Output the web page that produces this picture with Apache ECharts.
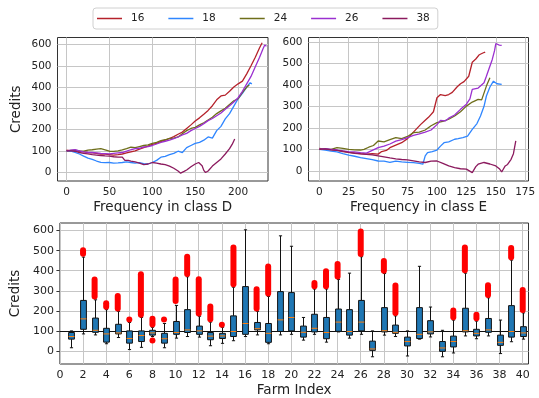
<!DOCTYPE html>
<html>
<head>
<meta charset="utf-8">
<script src="https://cdn.jsdelivr.net/npm/echarts@6/dist/echarts.min.js"></script>
<style>
  html, body { margin: 0; padding: 0; background: #fff; }
  #chart { width: 539px; height: 398px; }
</style>
</head>
<body>
<div id="chart"></div>
<script>
// line series: [frequency, credits]
const classD16 = [[0,103],[5,100],[10,102],[15,97],[20,95],[25,92],[30,90],[35,88],[40,85],[45,84],[50,82],[55,80],[60,82],[65,85],[70,90],[75,95],[80,100],[85,108],[90,115],[95,122],[100,130],[105,135],[110,143],[115,150],[120,158],[125,167],[130,178],[135,188],[140,205],[145,222],[150,240],[155,255],[160,272],[165,290],[170,312],[175,340],[180,358],[185,362],[190,380],[195,400],[200,415],[205,428],[210,462],[215,500],[220,540],[225,585],[228,608]];
const classD18 = [[0,100],[5,98],[10,93],[15,85],[20,75],[25,66],[30,60],[35,52],[40,46],[45,44],[50,45],[55,42],[60,43],[65,45],[70,48],[75,45],[80,42],[85,44],[90,40],[95,38],[100,45],[105,55],[110,70],[115,74],[120,82],[125,88],[130,98],[135,92],[140,115],[145,125],[150,135],[155,140],[160,150],[165,165],[170,160],[175,195],[180,215],[185,250],[190,275],[195,310],[200,345],[205,370],[210,400],[214,420],[216,415]];
const classD24 = [[0,100],[5,102],[10,103],[15,100],[20,98],[25,103],[30,105],[35,108],[40,110],[45,104],[50,98],[55,97],[60,100],[65,104],[70,110],[75,117],[80,115],[85,120],[90,125],[95,128],[100,135],[105,140],[110,148],[115,152],[120,158],[125,160],[130,165],[135,180],[140,195],[145,205],[150,210],[155,222],[160,232],[165,245],[170,258],[175,275],[180,288],[185,300],[190,318],[195,335],[200,345],[205,375],[210,400],[213,410]];
const classD26 = [[0,100],[5,103],[10,105],[15,100],[20,95],[25,93],[30,92],[35,90],[40,88],[45,87],[50,86],[55,88],[60,90],[65,92],[70,98],[75,105],[80,110],[85,112],[90,118],[95,120],[100,125],[105,132],[110,140],[115,145],[120,150],[125,157],[130,165],[135,175],[140,182],[145,195],[150,205],[155,215],[160,228],[165,242],[170,252],[175,265],[180,278],[185,295],[190,312],[195,330],[200,350],[205,380],[210,415],[215,450],[220,495],[225,540],[229,580],[231,598],[233,592]];
const classD38 = [[0,100],[5,100],[10,98],[15,92],[20,88],[25,86],[30,82],[35,80],[40,78],[45,76],[50,75],[55,72],[60,70],[65,70],[68,55],[72,55],[75,52],[80,48],[85,42],[90,35],[95,38],[100,45],[105,42],[110,38],[115,35],[120,28],[125,18],[130,5],[133,-5],[137,3],[140,10],[145,25],[150,38],[154,45],[158,30],[160,8],[162,-2],[165,5],[170,28],[175,45],[180,62],[185,85],[190,110],[193,130],[196,156]];

const classE16 = [[0,104],[5,100],[10,98],[15,95],[20,90],[25,86],[30,83],[35,80],[40,78],[45,80],[50,78],[53,90],[57,95],[60,108],[65,120],[70,131],[75,150],[80,180],[86,215],[90,235],[93,250],[97,275],[100,340],[103,355],[107,350],[110,355],[113,365],[117,390],[120,405],[123,415],[127,440],[130,505],[133,520],[136,540],[139,548],[141,552]];
const classE18 = [[0,100],[5,97],[10,92],[15,88],[20,80],[25,73],[30,68],[35,62],[40,57],[45,52],[50,46],[55,45],[60,40],[65,45],[70,42],[75,40],[80,38],[85,35],[88,31],[90,70],[92,85],[96,90],[100,97],[103,115],[106,131],[110,135],[115,147],[118,150],[122,155],[126,162],[130,193],[134,220],[137,255],[140,300],[142,348],[145,390],[148,417],[151,405],[155,402]];
const classE24 = [[0,100],[5,102],[10,100],[15,108],[20,105],[25,100],[30,98],[35,97],[38,100],[42,110],[46,118],[50,139],[55,135],[60,145],[65,155],[70,150],[75,160],[80,178],[85,180],[90,190],[95,210],[100,224],[105,230],[110,240],[115,255],[120,275],[125,301],[130,320],[135,332],[138,330],[142,394],[145,433]];
const classE26 = [[0,100],[5,103],[10,100],[15,97],[20,93],[25,90],[30,88],[35,85],[40,83],[45,95],[50,108],[55,115],[60,125],[65,138],[70,145],[75,155],[80,165],[85,172],[90,180],[95,190],[100,215],[103,235],[107,232],[110,245],[115,260],[120,286],[125,310],[128,335],[130,379],[135,385],[140,410],[142,440],[144,471],[147,518],[149,560],[150,592],[153,585],[155,583]];
const classE38 = [[0,100],[5,102],[10,98],[15,95],[20,92],[25,86],[30,82],[35,79],[40,77],[45,74],[50,70],[55,65],[60,60],[65,56],[70,53],[75,51],[80,47],[85,42],[90,39],[95,45],[100,46],[105,35],[110,23],[115,15],[120,10],[125,8],[130,-8],[133,20],[135,31],[140,39],[145,32],[150,23],[153,10],[155,-5],[158,23],[160,30],[163,54],[165,80],[167,139]];

const legendNames = ['16', '18', '24', '26', '38'];
const lineColors = ['#b5222b', '#2f86ff', '#6e6e1a', '#9b30d0', '#8b1a5e'];

// box plot per farm
const farmIndex = [1,2,3,4,5,6,7,8,9,10,11,12,13,14,15,16,17,18,19,20,21,22,23,24,25,26,27,28,29,30,31,32,33,34,35,36,37,38,39,40];
const whiskerLow = [16,85,80,36,67,7,18,72,16,64, 72,69,26,38,51,72,80,36,80,83, 54,83,44,95,64,83,-29,79,72,-25, 59,70,-29,-10,75,61,75,-13,46,59];
const boxQ1 = [59,108,93,44,85,39,47,79,39,83, 92,83,56,62,72,83,105,43,97,100, 69,95,61,98,79,100,3,95,88,25, 62,85,-2,20,95,75,93,28,69,72];
const boxMedian = [72,160,103,85,90,62,77,90,61,92, 105,100,74,75,97,137,111,88,155,167, 93,113,92,144,97,144,10,101,93,47, 83,95,15,47,101,88,105,43,97,90];
const boxQ3 = [92,252,164,113,133,100,100,103,88,147, 206,124,92,88,175,321,142,137,296,291, 124,183,167,209,206,252,49,216,129,69, 216,151,47,74,213,108,162,79,226,121];
const whiskerHigh = [100,468,255,206,198,142,167,118,137,227, 370,173,144,118,318,604,198,272,574,522, 167,309,309,357,388,470,100,386,175,100, 422,219,103,154,388,149,265,154,453,190];

// outlier runs (dense red markers), one entry per run
const flierFarm = [2,3,4,5,6,7,8,8,9,10,11,12,13,14,15,17,18,22,23,24,26,28,29,34,35,36,37,39,40];
const flierLow  = [485,272,220,212,157,181,132,52,157,249,384,187,158,131,332,212,286,323,323,371,484,400,189,168,402,163,279,467,204];
const flierHigh = [502,356,238,274,157,382,161,52,157,356,470,357,222,131,516,308,421,339,398,433,595,449,326,202,516,181,328,513,304];

const creditTicks = [0, 100, 200, 300, 400, 500, 600];
const classDTicks = [0, 50, 100, 150, 200];
const classETicks = [0, 25, 50, 75, 100, 125, 150, 175];
const farmTicks = [0,2,4,6,8,10,12,14,16,18,20,22,24,26,28,30,32,34,36,38,40];

const FONT = 'DejaVu Sans';
const TEXT = '#222';
const GRIDLINE = '#c6c6c6';

function valueAxis(gridIndex, min, max, ticks, fontSize, extra) {
  return Object.assign({
    type: 'value',
    gridIndex: gridIndex,
    min: min,
    max: max,
    axisLine: { show: false },
    axisTick: { show: true, inside: false, length: 3.5, customValues: ticks, lineStyle: { color: '#333' } },
    axisLabel: { customValues: ticks, margin: 6, fontSize: fontSize, color: TEXT, fontFamily: FONT },
    splitLine: { show: false },
    nameTextStyle: { fontSize: 13.5, color: TEXT, fontFamily: FONT },
  }, extra || {});
}

// grid lines drawn as mark lines so they sit exactly on the tick values
function gridLines(index, xTicks, yTicks) {
  return {
    type: 'line',
    xAxisIndex: index,
    yAxisIndex: index,
    data: [],
    silent: true,
    z: 1,
    markLine: {
      silent: true,
      symbol: 'none',
      label: { show: false },
      animation: false,
      lineStyle: { color: GRIDLINE, width: 1, type: 'solid' },
      data: xTicks.map(v => ({ xAxis: v })).concat(yTicks.map(v => ({ yAxis: v }))),
      z: 1,
    },
  };
}

function renderBox(params, api) {
  const x = api.value(0);
  const pLow = api.coord([x, api.value(1)]);
  const pQ1 = api.coord([x, api.value(2)]);
  const pMed = api.coord([x, api.value(3)]);
  const pQ3 = api.coord([x, api.value(4)]);
  const pHigh = api.coord([x, api.value(5)]);
  const half = api.size([0.5, 0])[0] / 2;
  const cap = half * 0.55;
  const cx = Math.round(pQ1[0]) + 0.5;
  const stroke = { stroke: '#111', lineWidth: 1 };
  return {
    type: 'group',
    children: [
      { type: 'line', shape: { x1: cx, y1: pHigh[1], x2: cx, y2: pQ3[1] }, style: stroke },
      { type: 'line', shape: { x1: cx, y1: pQ1[1], x2: cx, y2: pLow[1] }, style: stroke },
      { type: 'line', shape: { x1: cx - cap, y1: pHigh[1], x2: cx + cap, y2: pHigh[1] }, style: stroke },
      { type: 'line', shape: { x1: cx - cap, y1: pLow[1], x2: cx + cap, y2: pLow[1] }, style: stroke },
      { type: 'rect', shape: { x: cx - half, y: pQ3[1], width: half * 2, height: pQ1[1] - pQ3[1] },
        style: { fill: '#1f77b4', stroke: '#111', lineWidth: 1 } },
      { type: 'line', shape: { x1: cx - half, y1: pMed[1], x2: cx + half, y2: pMed[1] },
        style: { stroke: '#ff7f0e', lineWidth: 1 } },
    ],
  };
}

function renderFlier(params, api) {
  const x = api.value(0);
  const pLo = api.coord([x, api.value(1)]);
  const pHi = api.coord([x, api.value(2)]);
  const r = 3;
  return {
    type: 'rect',
    shape: { x: pLo[0] - r, y: pHi[1] - r, width: r * 2, height: pLo[1] - pHi[1] + r * 2, r: r },
    style: { fill: '#ff0000' },
  };
}

const boxData = farmIndex.map((f, i) => [f, whiskerLow[i], boxQ1[i], boxMedian[i], boxQ3[i], whiskerHigh[i]]);
const flierData = flierFarm.map((f, i) => [f, flierLow[i], flierHigh[i]]);

const classD = [classD16, classD18, classD24, classD26, classD38];
const classE = [classE16, classE18, classE24, classE26, classE38];

const lineSeries = [];
[classD, classE].forEach((group, gi) => {
  group.forEach((data, si) => {
    lineSeries.push({
      name: legendNames[si],
      type: 'line',
      xAxisIndex: gi,
      yAxisIndex: gi,
      data: data,
      showSymbol: false,
      clip: false,
      lineStyle: { color: lineColors[si], width: 1.3 },
      itemStyle: { color: lineColors[si] },
      z: 2 + si,
    });
  });
});

const gridFrame = { show: true, borderColor: '#333', borderWidth: 1, backgroundColor: '#fff' };

const option = {
  animation: false,
  backgroundColor: '#fff',
  textStyle: { fontFamily: FONT },
  legend: {
    data: legendNames,
    left: 93,
    top: 8,
    icon: 'rect',
    itemWidth: 25,
    itemHeight: 1.5,
    itemGap: 24,
    padding: [5, 8, 5, 4],
    borderColor: '#d0d0d0',
    borderWidth: 1,
    borderRadius: 3,
    textStyle: { fontSize: 10.5, color: TEXT, fontFamily: FONT, padding: [0, 0, 0, 4] },
  },
  grid: [
    Object.assign({ left: 57.5, top: 37.5, width: 210.5, height: 143.5 }, gridFrame),
    Object.assign({ left: 308.5, top: 37.5, width: 220, height: 143.5 }, gridFrame),
    Object.assign({ left: 57.5, top: 223, width: 471, height: 143.5 }, gridFrame),
  ],
  xAxis: [
    valueAxis(0, -10.5, 234.8, classDTicks, 10.5, { name: 'Frequency in class D', nameLocation: 'middle', nameGap: 19 }),
    valueAxis(1, -9.2, 177.8, classETicks, 10.5, { name: 'Frequency in class E', nameLocation: 'middle', nameGap: 19 }),
    valueAxis(2, 0, 40.5, farmTicks, 11, { name: 'Farm Index', nameLocation: 'middle', nameGap: 19 }),
  ],
  yAxis: [
    valueAxis(0, -42, 633, creditTicks, 10.5, { name: 'Credits', nameLocation: 'middle', nameGap: 34 }),
    valueAxis(1, -47, 620, creditTicks, 10.5),
    valueAxis(2, -65, 638, creditTicks, 11, { name: 'Credits', nameLocation: 'middle', nameGap: 34 }),
  ],
  series: [
    gridLines(0, classDTicks, creditTicks),
    gridLines(1, classETicks, creditTicks),
    gridLines(2, farmTicks, creditTicks),
  ].concat(lineSeries, [
    {
      type: 'custom',
      name: 'boxes',
      xAxisIndex: 2,
      yAxisIndex: 2,
      data: boxData,
      renderItem: renderBox,
      z: 3,
      markLine: {
        silent: true,
        symbol: 'none',
        label: { show: false },
        lineStyle: { color: '#111', width: 1, type: 'solid' },
        data: [{ yAxis: 100 }],
        z: 2,
      },
    },
    {
      type: 'custom',
      name: 'fliers',
      xAxisIndex: 2,
      yAxisIndex: 2,
      data: flierData,
      renderItem: renderFlier,
      z: 4,
    },
  ]),
};

const chart = echarts.init(document.getElementById('chart'));
chart.setOption(option);
</script>
</body>
</html>
